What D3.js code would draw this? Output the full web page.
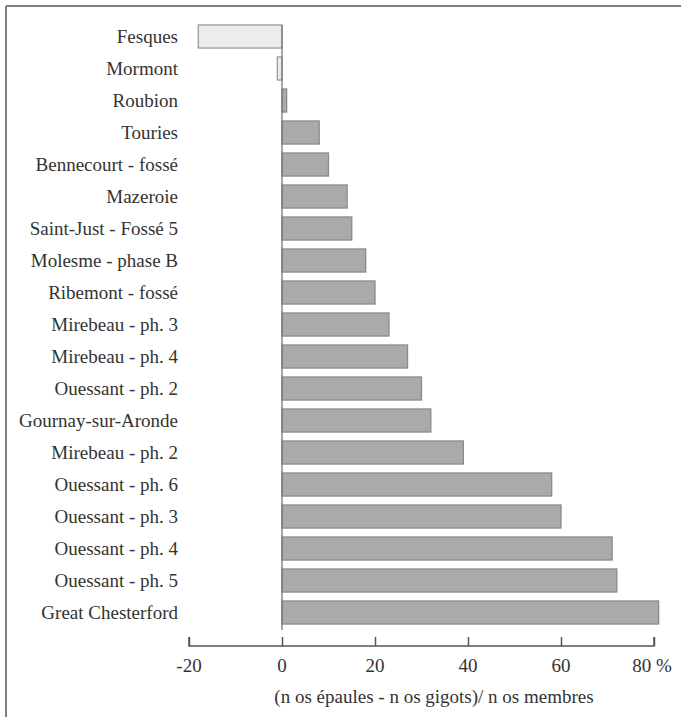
<!DOCTYPE html>
<html>
<head>
<meta charset="utf-8">
<script src="https://cdn.jsdelivr.net/npm/d3@7"></script>
<style>
  body { margin: 0; background: #fff; }
</style>
</head>
<body>
<div id="chart"></div>
<script>
// sites, top to bottom
var sites = ["Fesques", "Mormont", "Roubion", "Touries", "Bennecourt - fossé", "Mazeroie",
    "Saint-Just - Fossé 5", "Molesme - phase B", "Ribemont - fossé", "Mirebeau - ph. 3",
    "Mirebeau - ph. 4", "Ouessant - ph. 2", "Gournay-sur-Aronde", "Mirebeau - ph. 2",
    "Ouessant - ph. 6", "Ouessant - ph. 3", "Ouessant - ph. 4", "Ouessant - ph. 5",
    "Great Chesterford"]
// (n os épaules - n os gigots) / n os membres, in %
var values = [-18, -1, 1, 8, 10, 14, 15, 18, 20, 23, 27, 30, 32, 39, 58, 60, 71, 72, 81]
var tickValues = [-20, 0, 20, 40, 60, 80]
var tickLabels = ["-20", "0", "20", "40", "60", "80 %"]

var W = 681, H = 717
var serif = "'Liberation Serif', 'Times New Roman', Times, 'DejaVu Serif', serif"

var svg = d3.select("#chart")
    .append("svg")
    .attr("width", W)
    .attr("height", H)
    .style("font-family", serif)

// frame (top and left only, like the scan)
svg.append("line").attr("x1", 6).attr("x2", W).attr("y1", 6).attr("y2", 6)
    .attr("stroke", "#808080").attr("stroke-width", 2)
svg.append("line").attr("x1", 6).attr("x2", 6).attr("y1", 6).attr("y2", H)
    .attr("stroke", "#808080").attr("stroke-width", 2)

var x = d3.scaleLinear()
    .domain([-20, 80])
    .range([189, 654])

var y = d3.scaleBand()
    .domain(sites)
    .range([20.5, 628.5])
    .paddingInner(0.28)
    .paddingOuter(0.14)

// bars
svg.append("g")
    .selectAll("rect")
    .data(sites)
    .enter()
    .append("rect")
    .attr("x", function (d, i) { return x(Math.min(0, values[i])) })
    .attr("width", function (d, i) { return Math.abs(x(values[i]) - x(0)) })
    .attr("y", function (d) { return y(d) })
    .attr("height", y.bandwidth())
    .attr("fill", function (d, i) { return values[i] < 0 ? "#ececec" : "#aaaaaa" })
    .attr("stroke", function (d, i) { return values[i] < 0 ? "#9a9a9a" : "#8a8a8a" })
    .attr("stroke-width", 1.3)

// zero line
svg.append("line")
    .attr("x1", x(0)).attr("x2", x(0))
    .attr("y1", y(sites[0])).attr("y2", 630)
    .attr("stroke", "#777").attr("stroke-width", 1.3)

// site labels
svg.append("g")
    .selectAll("text")
    .data(sites)
    .enter()
    .append("text")
    .attr("x", 178)
    .attr("y", function (d) { return y(d) + y.bandwidth() / 2 })
    .attr("dy", "0.35em")
    .attr("text-anchor", "end")
    .attr("fill", "#333")
    .style("font-size", "19px")
    .text(function (d) { return d })

// x axis, ticks point up
var axis = svg.append("g")
    .attr("transform", "translate(0,646)")
    .call(d3.axisTop(x).tickValues(tickValues).tickSize(9).tickFormat(function (d, i) { return "" }))
axis.select(".domain").attr("stroke", "#555").attr("stroke-width", 1.5)
    .attr("d", "M" + x(-20) + ",-9V0H" + x(80) + "V-9")
axis.selectAll(".tick line").attr("stroke", "#555").attr("stroke-width", 1.5)

svg.append("g")
    .selectAll("text")
    .data(tickValues)
    .enter()
    .append("text")
    .attr("x", function (d, i) { return i == tickValues.length - 1 ? x(d) - 2 : x(d) })
    .attr("y", 672)
    .attr("text-anchor", "middle")
    .attr("fill", "#333")
    .style("font-size", "19px")
    .text(function (d, i) { return tickLabels[i] })

// axis title
svg.append("text")
    .attr("x", 434)
    .attr("y", 703)
    .attr("text-anchor", "middle")
    .attr("fill", "#333")
    .style("font-size", "19px")
    .text("(n os épaules - n os gigots)/ n os membres")
</script>
</body>
</html>
